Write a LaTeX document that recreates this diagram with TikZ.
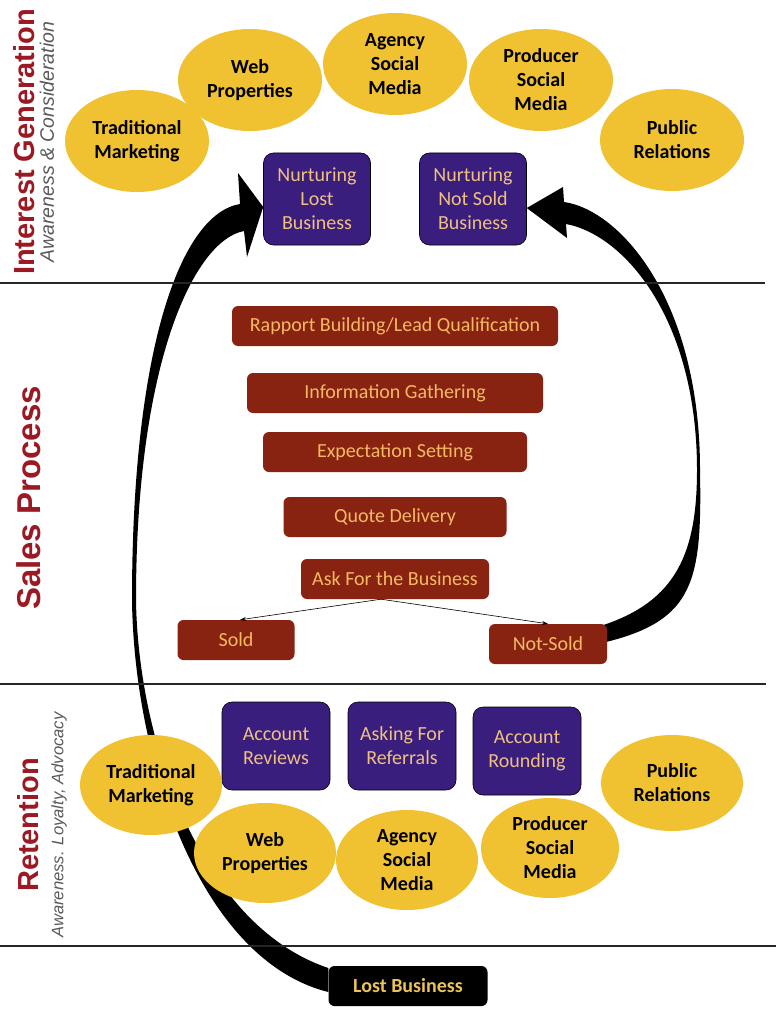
\documentclass[tikz,border=0pt]{standalone}
\usepackage{fontspec}
\setmainfont{Carlito}
\newfontfamily\headfont{Liberation Sans}
\usepackage{xcolor}
\usepackage{tikz}
\usetikzlibrary{shapes.geometric,arrows.meta,backgrounds}

\definecolor{leadgold}{HTML}{F0C232}
\definecolor{nurturepurple}{HTML}{3A1E7E}
\definecolor{nurturetext}{HTML}{EFC07F}
\definecolor{stagered}{HTML}{872310}
\definecolor{stagetext}{HTML}{F5B964}
\definecolor{phasered}{HTML}{9B1923}
\definecolor{phasegray}{HTML}{5A5A5A}
\definecolor{lostgold}{HTML}{EBC35A}

\begin{document}
\begin{tikzpicture}[x=1pt,y=-1pt,
  channel/.style={ellipse, fill=leadgold, inner sep=0pt, minimum width=144pt, minimum height=102pt, align=center, font=\fontsize{20}{24}\selectfont\bfseries},
  nurture/.style={draw=black, line width=0.6pt, rounded corners=10pt, fill=nurturepurple, text=nurturetext, inner sep=0pt, minimum width=107pt, minimum height=92pt, align=center, font=\fontsize{20}{24}\selectfont},
  stage/.style={rounded corners=6pt, fill=stagered, text=stagetext, inner sep=0pt, minimum height=40pt, font=\fontsize{20}{24}\selectfont},
  phase/.style={rotate=90, text=phasered, font=\headfont\bfseries\fontsize{29}{30}\selectfont},
  phasesub/.style={rotate=90, text=phasegray, font=\headfont\itshape\fontsize{19.5}{20}\selectfont},
  divider/.style={line width=1.6pt, black!85},
  branch/.style={-{Stealth[length=6pt,width=4pt]}, line width=0.6pt},
  swoosh/.style={fill=black}
]
\useasboundingbox (0,0) rectangle (776,1024);

\node[phase] (interest) at (24,142) {Interest Generation};
\node[phasesub] (interestsub) at (47,142) {Awareness \& Consideration};
\node[phase, font=\headfont\bfseries\fontsize{33}{34}\selectfont] (sales) at (29,498) {Sales Process};
\node[phase] (retention) at (28,825) {Retention};
\node[phasesub, font=\headfont\itshape\fontsize{16.6}{18}\selectfont] (retentionsub) at (59,825) {Awareness. Loyalty, Advocacy};

\node[channel] (ittrad) at (137,141) {Traditional\\Marketing};
\node[channel] (itweb) at (250,80) {Web\\Properties};
\node[channel] (itagency) at (395,64) {Agency\\Social\\Media};
\node[channel] (itproducer) at (541,80) {Producer\\Social\\Media};
\node[channel] (itpublic) at (672,140) {Public\\Relations};

\node[nurture] (nlost) at (317,199) {Nurturing\\Lost\\Business};
\node[nurture] (nnot) at (473,199) {Nurturing\\Not Sold\\Business};

\draw[divider] (0,283) -- (765,283);
\draw[divider] (0,684) -- (766,684);
\draw[divider] (0,946) -- (776,946);

\node[stage, minimum width=326pt] (rapport) at (395,326) {Rapport Building/Lead Qualification};
\node[stage, minimum width=296pt] (gather) at (395,393) {Information Gathering};
\node[stage, minimum width=264pt] (expect) at (395,452) {Expectation Setting};
\node[stage, minimum width=223pt] (quote) at (395,517) {Quote Delivery};
\node[stage, minimum width=188pt] (ask) at (395,579) {Ask For the Business};
\node[stage, minimum width=117pt] (sold) at (236,640) {Sold};
\node[stage, minimum width=118pt] (notsold) at (548,644) {Not-Sold};

\coordinate (fork) at ([xshift=-14pt]ask.south);
\draw[branch] (fork) -- ([xshift=4pt]sold.north);
\draw[branch] (fork) -- (notsold.north);

\node[nurture, minimum width=108pt, minimum height=88pt] (reviews) at (276,746) {Account\\Reviews};
\node[nurture, minimum width=108pt, minimum height=88pt] (referrals) at (402,746) {Asking For\\Referrals};
\node[nurture, minimum width=108pt, minimum height=88pt] (rounding) at (527,751) {Account\\Rounding};

\node[channel, minimum width=142pt, minimum height=100pt] (rttrad) at (151,785) {Traditional\\Marketing};
\node[channel, minimum width=142pt, minimum height=100pt] (rtweb) at (265,853) {Web\\Properties};
\node[channel, minimum width=142pt, minimum height=100pt] (rtagency) at (407,860) {Agency\\Social\\Media};
\node[channel, minimum width=138pt, minimum height=100pt] (rtproducer) at (550,848) {Producer\\Social\\Media};
\node[channel, minimum width=142pt, minimum height=96pt] (rtpublic) at (672,783) {Public\\Relations};

\node[fill=black, rounded corners=6pt, text=lostgold, inner sep=0pt, minimum width=159pt, minimum height=40pt, font=\fontsize{20}{24}\selectfont\bfseries] (lost) at (408,986) {Lost Business};

\begin{pgfonlayer}{background}
\fill[white] (0,0) rectangle (776,1024);
\fill[swoosh] ([yshift=-9pt]nnot.east) -- (567,238) -- (566,224)
  .. controls (625,235) and (697,320) .. (697,470)
  .. controls (697,560) and (672,605) .. (594,628)
  -- (606,642)
  .. controls (695,620) and (702,580) .. (700,470)
  .. controls (700,300) and (620,210) .. (564,202)
  -- (563,187) -- cycle;
\fill[swoosh] ([yshift=-8pt]nlost.west) -- (247,257) -- (244,231)
  .. controls (195,240) and (136,360) .. (136,600)
  .. controls (138,740) and (200,925) .. ([yshift=18pt]lost.west)
  -- ([yshift=-6pt]lost.west)
  .. controls (200,960) and (134,760) .. (132,600)
  .. controls (132,350) and (180,214) .. (240,204)
  -- (238,173) -- cycle;
\end{pgfonlayer}
\end{tikzpicture}
\end{document}
